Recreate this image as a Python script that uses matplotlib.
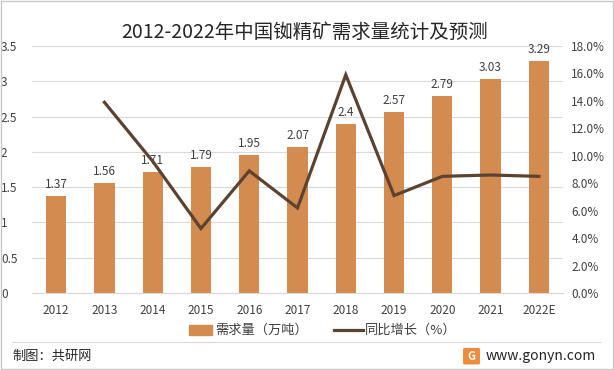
import matplotlib
matplotlib.use("Agg")
import matplotlib.pyplot as plt
from matplotlib.patches import Rectangle, FancyBboxPatch
from matplotlib.lines import Line2D

plt.rcParams['font.family'] = ['Noto Sans CJK SC', 'DejaVu Sans']

years = ['2012', '2013', '2014', '2015', '2016', '2017', '2018', '2019', '2020', '2021', '2022E']
demand = [1.37, 1.56, 1.71, 1.79, 1.95, 2.07, 2.4, 2.57, 2.79, 3.03, 3.29]
growth = [None, 13.9, 9.6, 4.7, 8.9, 6.2, 15.9, 7.1, 8.5, 8.6, 8.5]

bar_color = '#D38B4F'
line_color = '#5C4331'
txt = '#404040'

fig = plt.figure(figsize=(6.14, 3.70), dpi=100)
ax = fig.add_axes([32/614, (370-293)/370, (563-32)/614, (293-46)/370])
x = list(range(len(years)))
ax.bar(x, demand, width=0.42, color=bar_color, zorder=2)
for xi, v in zip(x, demand):
    ax.text(xi, v + 0.07, f'{v:g}', ha='center', va='bottom', fontsize=8.5, color=txt)
ax.set_ylim(0, 3.5)
ax.set_yticks([0, 0.5, 1, 1.5, 2, 2.5, 3, 3.5])
ax.set_yticklabels(['0', '0.5', '1', '1.5', '2', '2.5', '3', '3.5'])
ax.set_xlim(-0.5, len(years) - 0.5)
ax.set_xticks(x)
ax.set_xticklabels(years)
ax.grid(axis='y', color='#D9D9D9', linewidth=0.8, zorder=0)
ax.set_axisbelow(True)
for s in ['top', 'right', 'left']:
    ax.spines[s].set_visible(False)
ax.spines['bottom'].set_color('#D9D9D9')
ax.tick_params(axis='both', length=0, labelsize=8.5, colors=txt)
ax.tick_params(axis='x', pad=8)
ax.tick_params(axis='y', pad=4)
for lbl in ax.get_yticklabels():
    lbl.set_horizontalalignment('left')
    lbl.set_x(-0.048)

ax2 = ax.twinx()
gx = [xi for xi, g in zip(x, growth) if g is not None]
gy = [g for g in growth if g is not None]
ax2.plot(gx, gy, color=line_color, linewidth=2.3, solid_joinstyle='miter', zorder=3)
ax2.set_ylim(0, 18)
ax2.set_yticks(range(0, 19, 2))
ax2.set_yticklabels([f'{v:.1f}%' for v in range(0, 19, 2)])
for s in ['top', 'right', 'left', 'bottom']:
    ax2.spines[s].set_visible(False)
ax2.tick_params(axis='y', length=0, labelsize=8.5, colors=txt, pad=6)

fig.text(305/614, 1 - 32/370, '2012-2022年中国铷精矿需求量统计及预测', ha='center', va='center',
         fontsize=14, color='#262626')

# legend
ly = 1 - 330/370
fig.patches.append(Rectangle((189/614, ly - 0.014), 23/614, 0.028, transform=fig.transFigure,
                             color=bar_color, figure=fig))
fig.text(215/614, ly, '需求量（万吨）', ha='left', va='center', fontsize=9.5, color=txt)
fig.lines.append(Line2D([334/614, 363/614], [ly, ly], transform=fig.transFigure,
                        color=line_color, linewidth=2.3, figure=fig))
fig.text(365/614, ly, '同比增长（%）', ha='left', va='center', fontsize=9.5, color=txt)

# separator and footer
sy = 1 - 342/370
fig.lines.append(Line2D([12/614, 600/614], [sy, sy], transform=fig.transFigure,
                        color='#D9D9D9', linewidth=0.8, figure=fig))
fig.text(12/614, 1 - 356/370, '制图：共研网', ha='left', va='center', fontsize=9.5, color='#262626')
fig.patches.append(FancyBboxPatch((465/614, 1 - 363/370), 13/614, 0.037,
                                  boxstyle='round,pad=0.002', transform=fig.transFigure,
                                  color='#F08A3C', figure=fig))
fig.text(471.5/614, 1 - 356/370, 'G', ha='center', va='center', fontsize=8, color='white', fontweight='bold')
fig.text(486/614, 1 - 356/370, 'www.gonyn.com', ha='left', va='center', fontsize=10, color='#262626')

# outer frame
fig.patches.append(Rectangle((0.002, 0.003), 0.996, 0.994, transform=fig.transFigure,
                             fill=False, edgecolor='#C8C8C8', linewidth=1, figure=fig))

fig.savefig('out.png', dpi=100)
